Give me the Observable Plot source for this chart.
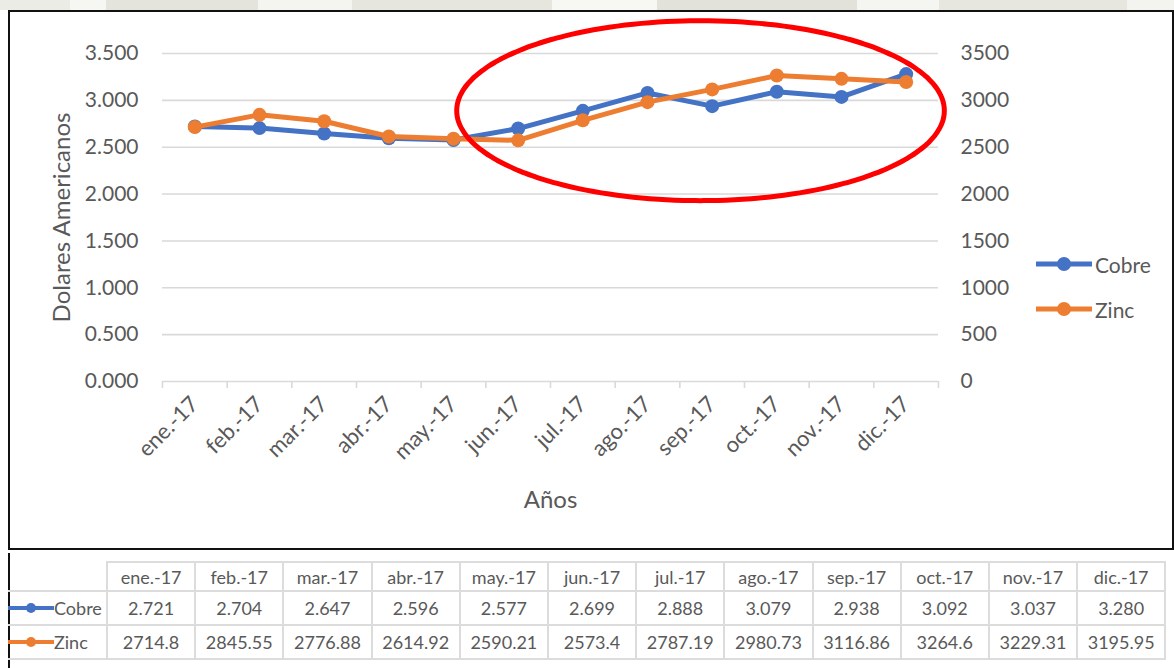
<!DOCTYPE html>
<html>
<head>
<meta charset="utf-8">
<script src="https://cdn.jsdelivr.net/npm/d3@7"></script>
<script src="https://cdn.jsdelivr.net/npm/@observablehq/plot@0.6"></script>
<style>
  html, body { margin: 0; padding: 0; }
  body { width: 1174px; height: 668px; position: relative; overflow: hidden; background: #fff; font-family: Lato, "Open Sans", sans-serif; color: #595959; }
  #wm { position: absolute; left: 0; top: 0; width: 1174px; height: 10px;
        background: linear-gradient(90deg, #ecece6 0 6%, #f6f6f2 6% 9%, #e4e4dc 9% 22%, #f4f4f0 22% 30%, #e6e6de 30% 47%, #f7f7f3 47% 56%, #e2e2da 56% 73%, #f5f5f1 73% 80%, #e7e7df 80% 96%, #f3f3ef 96% 100%); }
  #chart { position: absolute; left: 0; top: 0; }
  #box { position: absolute; left: 8px; top: 10px; width: 1166px; height: 540px; border: 2px solid #111; box-sizing: border-box; pointer-events: none; }
  #tbox { position: absolute; left: 8px; top: 553px; width: 2px; height: 115px; background: #111; }
  .leg { position: absolute; left: 1036px; height: 24px; display: flex; align-items: center; font-size: 21px; color: #595959; }
  .leg svg { margin-right: 3px; }
  table { position: absolute; left: 8px; top: 561px; border-collapse: collapse; font-size: 18px; color: #595959; }
  td { border: 2px solid #dcdcdc; text-align: center; padding: 0; width: 86.2px; }
  td.key { width: 98px; text-align: left; border-left: none; white-space: nowrap; }
  tr.h td { height: 27px; }
  tr.r td { height: 32px; }
  tr.h td.key { border-top: none; }
  .k { display: inline-flex; align-items: center; }
</style>
</head>
<body>
<div id="wm"></div>
<div id="chart"></div>
<div id="box"></div>
<div id="legend"></div>
<div id="tbox"></div>
<table id="tbl"></table>
<script>
// ---- data ----
const months = ["ene.-17","feb.-17","mar.-17","abr.-17","may.-17","jun.-17","jul.-17","ago.-17","sep.-17","oct.-17","nov.-17","dic.-17"];
const cobre = [2.721, 2.704, 2.647, 2.596, 2.577, 2.699, 2.888, 3.079, 2.938, 3.092, 3.037, 3.280];
const zinc = [2714.8, 2845.55, 2776.88, 2614.92, 2590.21, 2573.4, 2787.19, 2980.73, 3116.86, 3264.6, 3229.31, 3195.95];
const cobreLabels = ["2.721","2.704","2.647","2.596","2.577","2.699","2.888","3.079","2.938","3.092","3.037","3.280"];
const zincLabels = ["2714.8","2845.55","2776.88","2614.92","2590.21","2573.4","2787.19","2980.73","3116.86","3264.6","3229.31","3195.95"];
const leftTicks = [0, 0.5, 1, 1.5, 2, 2.5, 3, 3.5];
const rightTicks = [0, 500, 1000, 1500, 2000, 2500, 3000, 3500];
const seriesNames = ["Cobre", "Zinc"];
const colors = ["#4472C4", "#ED7D31"];
const yTitle = "Dolares Americanos";
const xTitle = "Años";
// highlight ellipse (annotation) in data units: center month index, center value, radii
const highlight = {cx: 7.82, cy: 2.89, rx: 3.77, ry: 0.96};

// ---- derived ----
const idx = months.map((m, i) => i);
const bounds = d3.range(-0.5, months.length, 1);
const cobreData = months.map((m, i) => ({i, v: cobre[i]}));
const zincData = months.map((m, i) => ({i, v: zinc[i] / 1000}));
const ellipsePts = d3.range(0, 361, 2).map(a => ({
  x: highlight.cx + highlight.rx * Math.cos(a * Math.PI / 180),
  y: highlight.cy + highlight.ry * Math.sin(a * Math.PI / 180)
}));

const fg = "#595959", grid = "#d9d9d9";

const plot = Plot.plot({
  width: 1174,
  height: 550,
  marginLeft: 162,
  marginRight: 236,
  marginTop: 53,
  marginBottom: 169,
  style: {background: "transparent", fontFamily: "Lato, 'Open Sans', sans-serif", color: fg},
  x: {type: "linear", domain: [-0.5, months.length - 0.5]},
  y: {domain: [0, 3.5]},
  marks: [
    Plot.gridY(leftTicks, {stroke: grid, strokeOpacity: 1, strokeWidth: 1.6}),
    Plot.axisY(leftTicks, {anchor: "left", tickSize: 0, tickPadding: 24, fontSize: 21, fill: fg, tickFormat: d3.format(".3f"), label: null}),
    Plot.axisY(rightTicks.map(d => d / 1000), {anchor: "right", tickSize: 0, tickPadding: 22, fontSize: 21, fill: fg, tickFormat: (d, k) => String(rightTicks[k]), label: null}),
    Plot.axisX(bounds, {tickSize: 7, stroke: grid, strokeWidth: 1.6, tickFormat: () => "", label: null}),
    Plot.axisX(idx, {tickSize: 0, tickPadding: 19, tickRotate: -45, fontSize: 22, fill: fg, tickFormat: i => months[i], label: null}),
    Plot.text([yTitle], {frameAnchor: "left", textAnchor: "middle", rotate: -90, dx: -100, fontSize: 24, fill: fg}),
    Plot.text([xTitle], {frameAnchor: "bottom", dy: 126, fontSize: 24, fill: fg}),
    Plot.line(cobreData, {x: "i", y: "v", stroke: colors[0], strokeWidth: 5}),
    Plot.dot(cobreData, {x: "i", y: "v", r: 7, fill: colors[0]}),
    Plot.line(zincData, {x: "i", y: "v", stroke: colors[1], strokeWidth: 5}),
    Plot.dot(zincData, {x: "i", y: "v", r: 7, fill: colors[1]}),
    Plot.line(ellipsePts, {x: "x", y: "y", stroke: "#ff0000", strokeWidth: 5, curve: "catmull-rom"})
  ]
});
document.getElementById("chart").appendChild(plot);

// ---- legend ----
function keySvg(color, w, r, sw) {
  return `<svg width="${w}" height="16"><line x1="0" x2="${w}" y1="8" y2="8" stroke="${color}" stroke-width="${sw}" stroke-linecap="round"/><circle cx="${w/2}" cy="8" r="${r}" fill="${color}"/></svg>`;
}
const legend = document.getElementById("legend");
const legTops = [252, 297];
seriesNames.forEach((s, k) => {
  const d = document.createElement("div");
  d.className = "leg";
  d.style.top = legTops[k] + "px";
  d.innerHTML = keySvg(colors[k], 56, 7, 5) + s;
  legend.appendChild(d);
});

// ---- table ----
const tbl = document.getElementById("tbl");
let html = `<tr class="h"><td class="key"></td>${months.map(m => `<td>${m}</td>`).join("")}</tr>`;
const rows = [cobreLabels, zincLabels];
rows.forEach((vals, k) => {
  html += `<tr class="r"><td class="key"><span class="k">${keySvg(colors[k], 46, 5, 4)}${seriesNames[k]}</span></td>${vals.map(v => `<td>${v}</td>`).join("")}</tr>`;
});
tbl.innerHTML = html;
</script>
</body>
</html>
